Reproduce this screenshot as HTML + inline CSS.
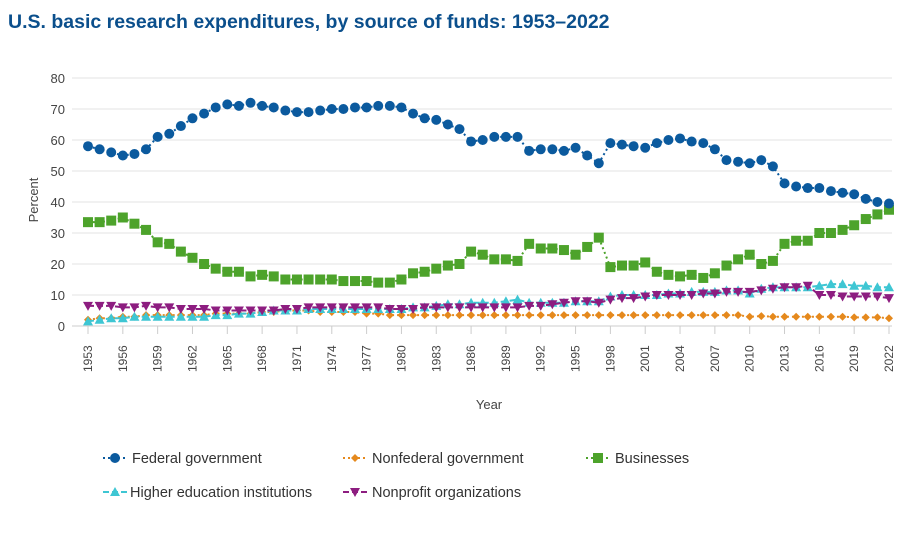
<!DOCTYPE html>
<html><head><meta charset="utf-8"><style>
body{margin:0;background:#fff;width:900px;height:533px;overflow:hidden;font-family:"Liberation Sans",sans-serif}
</style></head><body>
<svg id="s" width="900" height="533" xmlns="http://www.w3.org/2000/svg" font-family="Liberation Sans, sans-serif">
<text x="8" y="28" font-size="19.5" font-weight="bold" fill="#0b4f8c">U.S. basic research expenditures, by source of funds: 1953–2022</text>
</svg>
<script>
const s=document.getElementById('s');const NS='http://www.w3.org/2000/svg';
function el(t,a,txt){const e=document.createElementNS(NS,t);for(const k in a)e.setAttribute(k,a[k]);if(txt!==undefined)e.textContent=txt;s.appendChild(e);return e;}
const x0=88,x1=889,y0=326,ppu=3.1;
const X=i=>x0+i*(x1-x0)/69, Y=v=>y0-v*ppu;
for(let v=0;v<=80;v+=10){el('line',{x1:72,x2:892,y1:Y(v),y2:Y(v),stroke:v?'#e3e3e3':'#ccc','stroke-width':1});
el('text',{x:65,y:Y(v)+5,'font-size':13,fill:'#444','text-anchor':'end'},v);}
for(let i=0;i<70;i+=3){el('line',{x1:X(i),x2:X(i),y1:326,y2:334,stroke:'#ccc'});
el('text',{transform:`translate(${X(i)+4},372) rotate(-90)`,'font-size':12,fill:'#444'},1953+i);}
el('text',{transform:'translate(38,200) rotate(-90)','font-size':13,fill:'#444','text-anchor':'middle'},'Percent');
el('text',{x:489,y:409,'font-size':13,fill:'#444','text-anchor':'middle'},'Year');
const D={
fed:[58,57,56,55,55.5,57,61,62,64.5,67,68.5,70.5,71.5,71,72,71,70.5,69.5,69,69,69.5,70,70,70.5,70.5,71,71,70.5,68.5,67,66.5,65,63.5,59.5,60,61,61,61,56.5,57,57,56.5,57.5,55,52.5,59,58.5,58,57.5,59,60,60.5,59.5,59,57,53.5,53,52.5,53.5,51.5,46,45,44.5,44.5,43.5,43,42.5,41,40,39.5],
bus:[33.5,33.5,34,35,33,31,27,26.5,24,22,20,18.5,17.5,17.5,16,16.5,16,15,15,15,15,15,14.5,14.5,14.5,14,14,15,17,17.5,18.5,19.5,20,24,23,21.5,21.5,21,26.5,25,25,24.5,23,25.5,28.5,19,19.5,19.5,20.5,17.5,16.5,16,16.5,15.5,17,19.5,21.5,23,20,21,26.5,27.5,27.5,30,30,31,32.5,34.5,36,37.5],
np:[6.5,6.5,6.5,6,6,6.5,6,6,5.5,5.5,5.5,5,5,5,5,5,5,5.5,5.5,6,6,6,6,6,6,6,5.5,5.5,5.5,6,6,6,6,6,6,6,6,6,6.5,6.5,7,7.5,8,8,7.5,8.5,9,9,9.5,10,10,10,10,10.5,10.5,11,11,11,11.5,12,12.5,12.5,13,10,10,9.5,9.5,9.5,9.5,9],
he:[1.5,2,2.5,2.5,3,3,3,3,3,3,3,3.5,3.5,4,4,4.5,5,5,5,5.5,5.5,5.5,5.5,5.5,5.5,5.5,5.5,5.5,6,6,6.5,7,7,7.5,7.5,7.5,8,8.5,7.5,7.5,7.5,7.5,8,8,8,9.5,10,10,10,10,10.5,10.5,11,11,11,11.5,11.5,10.5,12,12.5,12.5,12.5,12.5,13,13.5,13.5,13,13,12.5,12.5],
nf:[2,2.5,2.5,3,3,3.5,3.5,3.5,3.5,3.5,3.5,4,4,4,4,4.5,4.5,5,5,5,4.5,4.5,4.5,4.5,4,4,3.5,3.5,3.5,3.5,3.5,3.5,3.5,3.5,3.5,3.5,3.5,3.5,3.5,3.5,3.5,3.5,3.5,3.5,3.5,3.5,3.5,3.5,3.5,3.5,3.5,3.5,3.5,3.5,3.5,3.5,3.5,3,3.2,3,3,3,3,3,3,3,2.8,2.8,2.8,2.5]};
const C={fed:'#0b5a9e',nf:'#e5891d',bus:'#4da32b',he:'#3ec6d3',np:'#8d1d80'};
function mk(k,x,y){const c=C[k];
if(k=='fed')el('circle',{cx:x,cy:y,r:5,fill:c});
else if(k=='bus')el('rect',{x:x-5,y:y-5,width:10,height:10,fill:c});
else if(k=='nf')el('path',{d:`M${x} ${y-4}L${x+4} ${y}L${x} ${y+4}L${x-4} ${y}Z`,fill:c});
else if(k=='he')el('path',{d:`M${x} ${y-5}L${x+5} ${y+4}L${x-5} ${y+4}Z`,fill:c});
else el('path',{d:`M${x-5} ${y-4}L${x+5} ${y-4}L${x} ${y+5}Z`,fill:c});}
const dash={fed:'2 3',nf:'2 3',bus:'2 3',he:'6 3',np:'6 3'};
for(const k of ['nf','he','np','bus','fed']){
el('polyline',{points:D[k].map((v,i)=>X(i)+','+Y(v)).join(' '),fill:'none',stroke:C[k],'stroke-width':2,'stroke-dasharray':dash[k]});
D[k].forEach((v,i)=>mk(k,X(i),Y(v)));}
const L=[['fed',115,458,'Federal government'],['nf',355,458,'Nonfederal government'],['bus',598,458,'Businesses'],['he',115,492,'Higher education institutions'],['np',355,492,'Nonprofit organizations']];
for(const [k,x,y,t] of L){el('line',{x1:x-12,x2:x+12,y1:y,y2:y,stroke:C[k],'stroke-width':2,'stroke-dasharray':dash[k]});mk(k,x,y);
el('text',{x:x+(k=='he'?15:17),y:y+5,'font-size':14.5,fill:'#333'},t);}
</script>
</body></html>
